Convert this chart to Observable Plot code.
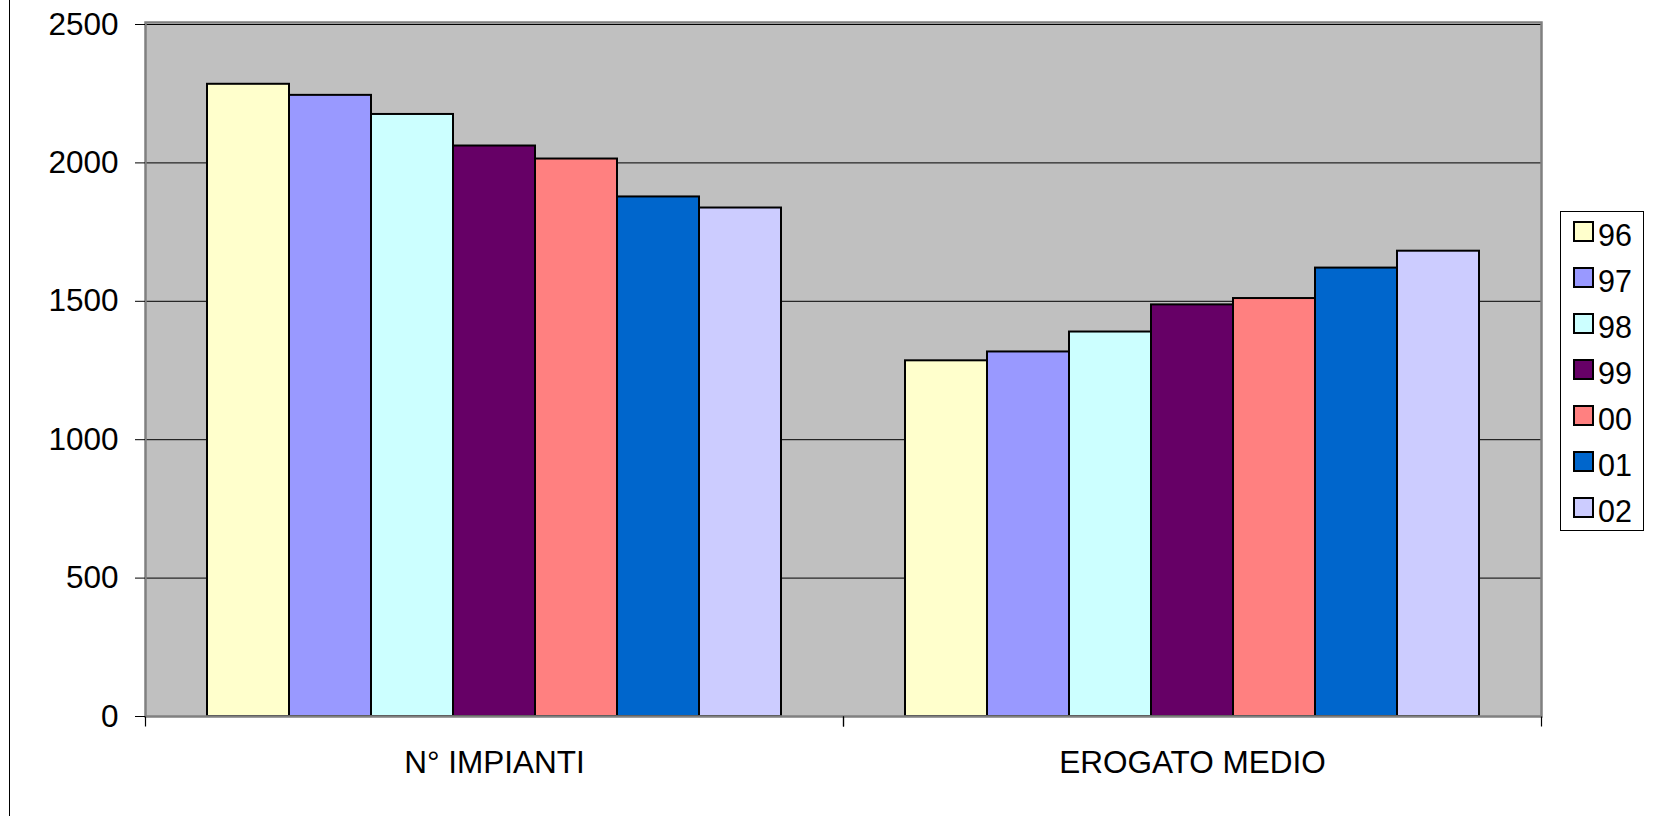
<!DOCTYPE html>
<html>
<head>
<meta charset="utf-8">
<script src="https://cdn.jsdelivr.net/npm/d3@7"></script>
<script src="https://cdn.jsdelivr.net/npm/@observablehq/plot@0.6"></script>
<style>
  html, body { margin: 0; padding: 0; background: #fff; }
  #wrap { position: relative; width: 1655px; height: 816px; overflow: hidden; font-family: "Liberation Sans", Arial, sans-serif; }
  #edge { position: absolute; left: 8.5px; top: 0; width: 0; height: 816px; border-left: 1.5px solid #000; }
  #legend { position: absolute; left: 1560px; top: 211px; width: 84px; height: 320px; border: 1px solid #000; background: #fff; box-sizing: border-box; }
  .sw { position: absolute; left: 12px; width: 17px; height: 17px; border: 2px solid #000; }
  .lab { position: absolute; left: 37px; font-size: 30.5px; line-height: 30px; color: #000; white-space: nowrap; }
</style>
</head>
<body>
<div id="wrap">
  <div id="edge"></div>
  <div id="chart"></div>
  <div id="legend"></div>
</div>
<script>
const categories = ["N° IMPIANTI", "EROGATO MEDIO"];
const years = ["96", "97", "98", "99", "00", "01", "02"];
const impianti = [2284, 2244, 2175, 2061, 2014, 1877, 1837];
const erogato = [1285, 1317, 1389, 1487, 1510, 1620, 1681];
const colors = ["#FFFFCC", "#9999FF", "#CCFFFF", "#660066", "#FF8080", "#0066CC", "#CCCCFF"];
const yTicks = [0, 500, 1000, 1500, 2000, 2500];

const data = [
  ...years.map((yr, i) => ({category: categories[0], year: yr, value: impianti[i]})),
  ...years.map((yr, i) => ({category: categories[1], year: yr, value: erogato[i]}))
];

const tickSymbol = {draw(ctx) { ctx.moveTo(0, 0); ctx.lineTo(0, 10); }};

const chart = Plot.plot({
  width: 1655,
  height: 816,
  marginLeft: 144,
  marginRight: 114,
  marginTop: 24,
  marginBottom: 100,
  style: {fontFamily: "'Liberation Sans', Arial, sans-serif", fontSize: "31.5px", background: "transparent", color: "#000"},
  fx: {domain: categories, padding: 0, label: null},
  x: {domain: years, paddingInner: 0, paddingOuter: 0.75, axis: null},
  y: {domain: [0, 2500], label: null},
  color: {domain: years, range: colors},
  marks: [
    Plot.frame({facet: "super", fill: "#C0C0C0"}),
    Plot.gridY(yTicks.slice(1), {stroke: "#000", strokeOpacity: 1, strokeWidth: 1}),
    Plot.barY(data, {fx: "category", x: "year", y: "value", fill: "year", stroke: "#000", strokeWidth: 2}),
    Plot.frame({facet: "super", stroke: "#808080", strokeWidth: 2.5, insetTop: -2}),
    Plot.axisY(yTicks, {tickSize: 10, tickPadding: 17, fontSize: 31.5, stroke: "#000", tickFormat: d3.format("d"), label: null}),
    Plot.axisFx({anchor: "bottom", tickSize: 0, tickPadding: 34, fontSize: 31.5, label: null}),
    Plot.dot([0], {frameAnchor: "bottom-left", symbol: tickSymbol, stroke: "#000", fill: "none", strokeWidth: 1.2}),
    Plot.dot([0], {frameAnchor: "bottom-right", symbol: tickSymbol, stroke: "#000", fill: "none", strokeWidth: 1.2})
  ]
});
document.getElementById("chart").appendChild(chart);

const colorScale = chart.scale("color");
const legend = document.getElementById("legend");
years.forEach((yr, i) => {
  const sw = document.createElement("div");
  sw.className = "sw";
  sw.style.top = (9 + 46 * i) + "px";
  sw.style.background = colorScale.range[i];
  const lab = document.createElement("div");
  lab.className = "lab";
  lab.style.top = (8 + 46 * i) + "px";
  lab.textContent = yr;
  legend.appendChild(sw);
  legend.appendChild(lab);
});
</script>
</body>
</html>
